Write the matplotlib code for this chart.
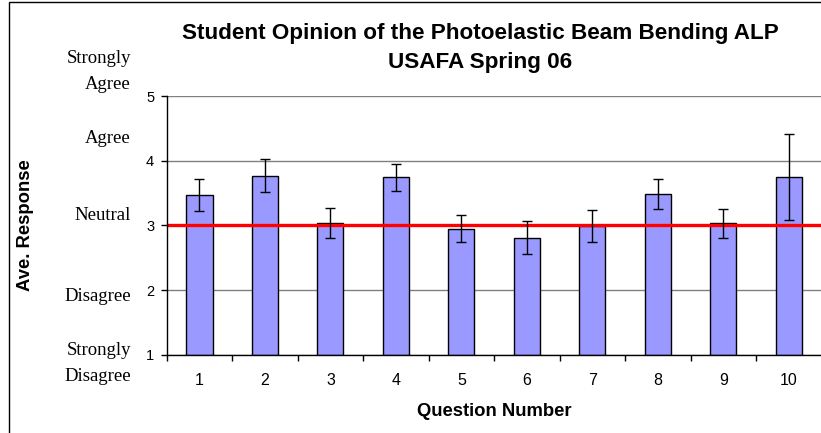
import matplotlib
matplotlib.use("Agg")
import matplotlib.pyplot as plt
import matplotlib.transforms as mtransforms
from matplotlib.patches import Rectangle
import numpy as np

questions = [1, 2, 3, 4, 5, 6, 7, 8, 9, 10]
responses = [3.47, 3.77, 3.04, 3.74, 2.95, 2.81, 2.99, 3.48, 3.03, 3.74]
errors = [0.245, 0.26, 0.23, 0.21, 0.205, 0.26, 0.255, 0.23, 0.225, 0.665]
neutral_level = 3
likert_labels = ["Strongly\nAgree", "Agree", "Neutral", "Disagree", "Strongly\nDisagree"]
likert_positions = [5.38, 4.35, 3.15, 1.90, 0.87]
title = "Student Opinion of the Photoelastic Beam Bending ALP\nUSAFA Spring 06"

W, H = 821, 433
fig = plt.figure(figsize=(W / 100, H / 100), dpi=100)
ax = fig.add_axes([166.7 / W, 1 - 354.7 / H, (821.5 - 166.7) / W, (354.7 - 96.0) / H])

sans = ["Liberation Sans", "DejaVu Sans"]
serif = ["Liberation Serif", "DejaVu Serif"]

ax.bar(questions, [r - 1 for r in responses], bottom=1, width=0.4,
       color="#9999FF", edgecolor="black", linewidth=1.0, zorder=2)
ax.axhline(neutral_level, color="#FF0000", linewidth=2.4, zorder=3)
ax.errorbar(questions, responses, yerr=errors, fmt="none", ecolor="black",
            elinewidth=1.0, capsize=3.3, capthick=1.0, zorder=4)

ax.set_xlim(0.5, 10.5)
ax.set_ylim(1, 5)
ax.set_yticks([1, 2, 3, 4, 5])
ax.set_yticklabels(["1", "2", "3", "4", "5"], fontfamily=sans, fontsize=10.5)
ax.set_xticks(questions)
ax.set_xticklabels([str(q) for q in questions], fontfamily=sans, fontsize=11.5)
ax.set_xticks(np.arange(0.5, 11, 1), minor=True)
ax.tick_params(axis="x", which="major", length=0, pad=13)
ax.tick_params(axis="x", which="minor", length=4, width=1, direction="out")
ax.tick_params(axis="y", length=4, width=1, direction="out", pad=5)

ax.grid(axis="y", color="#808080", linewidth=1.0, zorder=0)
ax.set_axisbelow(True)
for s in ["top", "right"]:
    ax.spines[s].set_visible(False)
for s in ["left", "bottom"]:
    ax.spines[s].set_color("black")
    ax.spines[s].set_linewidth(1.0)
    ax.spines[s].set_zorder(5)

trans = mtransforms.blended_transform_factory(fig.transFigure, ax.transData)
for lab, pos in zip(likert_labels, likert_positions):
    ax.text(131 / W, pos, lab, transform=trans, ha="right", va="center",
            fontfamily=serif, fontsize=13.5, linespacing=1.7, clip_on=False)

fig.text(480 / W, 1 - 48 / H, title, ha="center", va="center",
         fontfamily=sans, fontweight="bold", fontsize=16.2, linespacing=1.55)
fig.text(494 / W, 1 - 412 / H, "Question Number", ha="center", va="center",
         fontfamily=sans, fontweight="bold", fontsize=13.3)
fig.text(25 / W, 1 - 225 / H, "Ave. Response", ha="center", va="center",
         rotation=90, fontfamily=sans, fontweight="bold", fontsize=13.3)

fig.patches.append(Rectangle((9 / W, -0.1), 1.2, 1 - 2 / H + 0.1,
                             transform=fig.transFigure, fill=False,
                             edgecolor="black", linewidth=1.0))

fig.savefig("out.png", dpi=100)
